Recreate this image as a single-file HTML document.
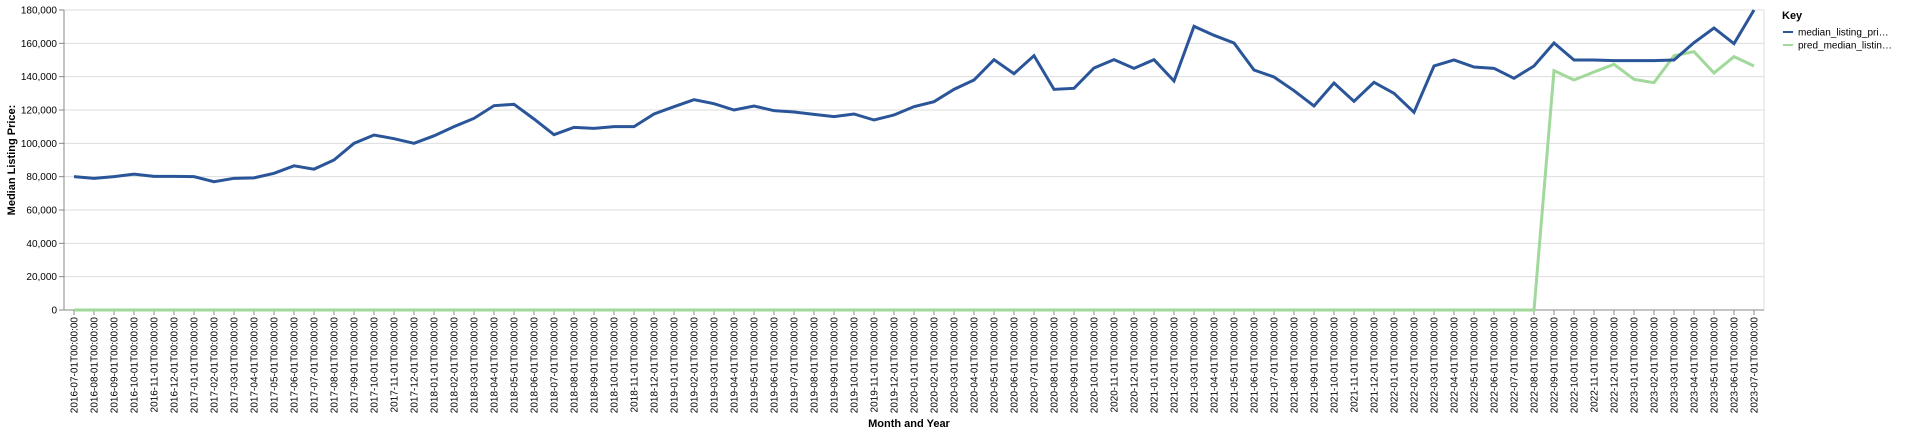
<!DOCTYPE html>
<html><head><meta charset="utf-8"><style>
html,body{margin:0;padding:0;background:#fff;}
svg{display:block;font-family:"Liberation Sans",Arial,sans-serif;}
</style></head><body>
<svg id="chart" width="1920" height="434" xmlns="http://www.w3.org/2000/svg">
<g id="grid"></g>
<g id="yaxis"></g>
<g id="xaxis"></g>
<g id="series"></g>
<text transform="translate(15,160) rotate(-90)" text-anchor="middle" font-size="11" font-weight="bold" fill="#000">Median Listing Price:</text>
<text x="909" y="427" text-anchor="middle" font-size="11" font-weight="bold" fill="#000">Month and Year</text>
<g>
<text x="1782" y="19" font-size="11" font-weight="bold" fill="#000">Key</text>
<g>
<line x1="1783" y1="32" x2="1793" y2="32" stroke="#2a5599" stroke-width="2"/>
<text x="1798" y="35.5" font-size="10" fill="#000">median_listing_pri…</text></g>
<g>
<line x1="1783" y1="45" x2="1793" y2="45" stroke="#a1d99b" stroke-width="2"/>
<text x="1798" y="48.5" font-size="10" fill="#000">pred_median_listin…</text></g>
</g>
</svg>
<script>
const startYear = 2016, startMonth = 7, monthCount = 85;
const medianValues = [80000,79000,80000,81500,80200,80200,80000,77000,79000,79300,82000,86500,84500,90000,100000,105000,102800,100000,104500,110000,115000,122600,123400,114600,105200,109600,109000,110000,110000,117600,122000,126200,123800,120000,122400,119600,118800,117400,116000,117600,114000,117000,122000,125000,132400,138000,150200,141800,152600,132400,133000,145200,150200,145000,150200,137400,170200,164800,160200,144000,139800,131600,122400,136200,125200,136600,130000,118600,146400,150000,145800,145000,139000,146400,160200,150000,150000,149600,149600,149600,150000,160400,169200,159800,180000];
const predValues = [0,0,0,0,0,0,0,0,0,0,0,0,0,0,0,0,0,0,0,0,0,0,0,0,0,0,0,0,0,0,0,0,0,0,0,0,0,0,0,0,0,0,0,0,0,0,0,0,0,0,0,0,0,0,0,0,0,0,0,0,0,0,0,0,0,0,0,0,0,0,0,0,0,0,143600,138000,142800,147400,138400,136400,152600,155000,142200,152000,146400];
const yTicks = [0,20000,40000,60000,80000,100000,120000,140000,160000,180000];

const NS = "http://www.w3.org/2000/svg";
const L = 64, R = 1764, T = 10, B = 310, yMax = 180000;
const categories = [];
for (let i = 0; i < monthCount; i++) {
  const m = (startMonth - 1 + i) % 12 + 1, y = startYear + Math.floor((startMonth - 1 + i) / 12);
  categories.push(y + "-" + String(m).padStart(2, "0") + "-01T00:00:00");
}
const step = (R - L) / monthCount;
const xs = i => L + step * (i + 0.5);
const ys = v => B - (v / yMax) * (B - T);
function mk(tag, attrs, parent) { const e = document.createElementNS(NS, tag); for (const k in attrs) e.setAttribute(k, attrs[k]); parent.appendChild(e); return e; }

const grid = document.getElementById("grid"), ya = document.getElementById("yaxis"), xa = document.getElementById("xaxis"), ser = document.getElementById("series");
yTicks.forEach(t => {
  const y = ys(t);
  const g = mk("line", {x1: L, x2: R, y1: y, y2: y, stroke: "#ddd", "stroke-width": 1}, grid);
  
  
  mk("line", {x1: L - 5, x2: L, y1: y, y2: y, stroke: "#888"}, ya);
  const tx = mk("text", {x: L - 7, y: y + 3.5, "text-anchor": "end", "font-size": 10, fill: "#000"}, ya);
  tx.textContent = t.toLocaleString("en-US");
  
  
});
mk("line", {x1: R, x2: R, y1: T, y2: B, stroke: "#ddd"}, grid);
mk("line", {x1: L, x2: L, y1: T, y2: B, stroke: "#888"}, ya);
mk("line", {x1: L, x2: R, y1: B, y2: B, stroke: "#888"}, xa);
categories.forEach((c, i) => {
  const x = xs(i);
  mk("line", {x1: x, x2: x, y1: B, y2: B + 5, stroke: "#888"}, xa);
  const tx = mk("text", {transform: "translate(" + (x + 3.5) + "," + (B + 7) + ") rotate(-90)", "text-anchor": "end", "font-size": 10, fill: "#000"}, xa);
  tx.textContent = c;
  
  
});
function line(vals, color, name) {
  const d = vals.map((v, i) => (i ? "L" : "M") + xs(i).toFixed(2) + "," + ys(v).toFixed(2)).join("");
  const p = mk("path", {d: d, fill: "none", stroke: color, "stroke-width": 3, "stroke-linejoin": "miter"}, ser);
  
  
}
line(predValues, "#a1d99b", "pred-median-line");
line(medianValues, "#2a5599", "median-listing-price-line");
</script>
</body></html>
